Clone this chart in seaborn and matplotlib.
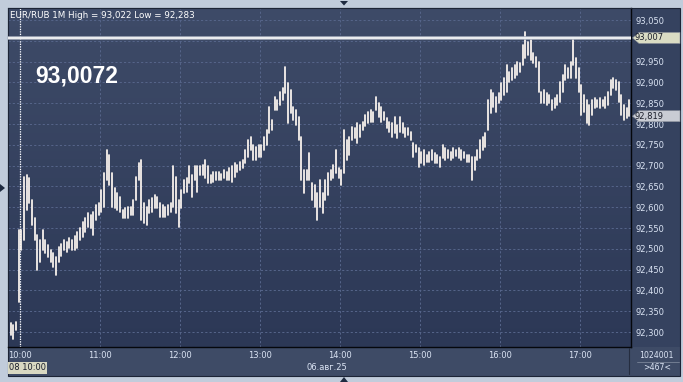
import numpy as np
import pandas as pd
import matplotlib
matplotlib.use("Agg")
import matplotlib.pyplot as plt
import matplotlib.transforms as mtransforms
from matplotlib.patches import Rectangle, Polygon
from matplotlib.colors import LinearSegmentedColormap
import seaborn as sns

# ---------------- data ----------------
first_bar_offset_min = -7      # first bar at 09:53 (minutes from 10:00)
bar_step_min = 2
highs = [
    92.322, 92.317, 92.325, 92.545, 92.545, 92.673, 92.677, 92.670, 92.617, 92.574,
    92.533, 92.521, 92.545, 92.521, 92.509, 92.497, 92.490, 92.480, 92.504, 92.511,
    92.521, 92.516, 92.526, 92.521, 92.530, 92.540, 92.550, 92.564, 92.574, 92.586,
    92.581, 92.588, 92.605, 92.610, 92.641, 92.682, 92.737, 92.725, 92.682, 92.646,
    92.634, 92.624, 92.593, 92.598, 92.600, 92.600, 92.617, 92.672, 92.706, 92.713,
    92.610, 92.600, 92.617, 92.622, 92.629, 92.624, 92.610, 92.605, 92.600, 92.605,
    92.610, 92.698, 92.672, 92.617, 92.641, 92.665, 92.670, 92.698, 92.677, 92.698,
    92.698, 92.698, 92.701, 92.713, 92.698, 92.677, 92.684, 92.684, 92.684, 92.680,
    92.689, 92.684, 92.694, 92.698, 92.706, 92.701, 92.708, 92.713, 92.737, 92.762,
    92.769, 92.750, 92.745, 92.750, 92.750, 92.769, 92.786, 92.841, 92.810, 92.865,
    92.858, 92.877, 92.887, 92.937, 92.899, 92.882, 92.841, 92.834, 92.817, 92.769,
    92.689, 92.689, 92.730, 92.658, 92.653, 92.634, 92.665, 92.634, 92.665, 92.682,
    92.689, 92.701, 92.737, 92.694, 92.689, 92.786, 92.762, 92.769, 92.793, 92.790,
    92.802, 92.798, 92.805, 92.822, 92.829, 92.834, 92.829, 92.865, 92.851, 92.841,
    92.829, 92.815, 92.805, 92.802, 92.817, 92.798, 92.817, 92.802, 92.790, 92.790,
    92.781, 92.754, 92.750, 92.742, 92.733, 92.737, 92.725, 92.733, 92.737, 92.730,
    92.725, 92.721, 92.750, 92.742, 92.737, 92.733, 92.742, 92.737, 92.742, 92.737,
    92.733, 92.725, 92.725, 92.721, 92.721, 92.737, 92.762, 92.769, 92.778, 92.858,
    92.882, 92.875, 92.865, 92.875, 92.899, 92.911, 92.942, 92.925, 92.935, 92.942,
    92.949, 92.947, 92.990, 93.022, 92.997, 93.002, 92.971, 92.961, 92.949, 92.877,
    92.882, 92.875, 92.870, 92.858, 92.863, 92.870, 92.901, 92.918, 92.942, 92.935,
    92.949, 93.007, 92.959, 92.935, 92.894, 92.870, 92.858, 92.846, 92.858, 92.863,
    92.858, 92.863, 92.858, 92.865, 92.877, 92.906, 92.911, 92.906, 92.901, 92.870,
    92.846, 92.839, 92.858,
]
lows = [
    92.293, 92.283, 92.305, 92.372, 92.497, 92.521, 92.593, 92.610, 92.557, 92.521,
    92.449, 92.468, 92.497, 92.490, 92.480, 92.468, 92.456, 92.437, 92.468, 92.483,
    92.497, 92.492, 92.502, 92.497, 92.497, 92.502, 92.521, 92.528, 92.540, 92.552,
    92.550, 92.533, 92.569, 92.581, 92.588, 92.600, 92.665, 92.653, 92.600, 92.598,
    92.593, 92.588, 92.574, 92.574, 92.574, 92.581, 92.581, 92.617, 92.665, 92.569,
    92.562, 92.557, 92.586, 92.588, 92.598, 92.598, 92.576, 92.576, 92.576, 92.581,
    92.588, 92.600, 92.586, 92.553, 92.598, 92.634, 92.636, 92.658, 92.624, 92.665,
    92.636, 92.677, 92.677, 92.670, 92.658, 92.658, 92.660, 92.665, 92.665, 92.665,
    92.670, 92.665, 92.665, 92.660, 92.672, 92.684, 92.689, 92.694, 92.706, 92.721,
    92.737, 92.713, 92.713, 92.721, 92.721, 92.737, 92.750, 92.778, 92.786, 92.834,
    92.834, 92.846, 92.858, 92.875, 92.802, 92.826, 92.810, 92.798, 92.762, 92.665,
    92.634, 92.665, 92.665, 92.617, 92.600, 92.569, 92.600, 92.586, 92.617, 92.629,
    92.665, 92.670, 92.682, 92.670, 92.653, 92.682, 92.713, 92.725, 92.762, 92.766,
    92.754, 92.769, 92.786, 92.795, 92.802, 92.805, 92.805, 92.834, 92.817, 92.805,
    92.810, 92.790, 92.781, 92.769, 92.778, 92.766, 92.781, 92.778, 92.769, 92.774,
    92.762, 92.721, 92.733, 92.697, 92.706, 92.701, 92.708, 92.708, 92.713, 92.706,
    92.706, 92.697, 92.718, 92.713, 92.718, 92.713, 92.718, 92.723, 92.718, 92.713,
    92.718, 92.708, 92.708, 92.665, 92.689, 92.713, 92.718, 92.737, 92.745, 92.786,
    92.826, 92.841, 92.829, 92.851, 92.858, 92.870, 92.877, 92.901, 92.906, 92.911,
    92.918, 92.925, 92.942, 92.959, 92.966, 92.954, 92.947, 92.937, 92.877, 92.850,
    92.850, 92.846, 92.851, 92.834, 92.838, 92.846, 92.853, 92.877, 92.906, 92.911,
    92.911, 92.942, 92.911, 92.877, 92.822, 92.829, 92.802, 92.798, 92.822, 92.838,
    92.841, 92.838, 92.843, 92.838, 92.846, 92.870, 92.887, 92.882, 92.853, 92.822,
    92.810, 92.815, 92.819,
]
y_ticks = [92.30, 92.35, 92.40, 92.45, 92.50, 92.55, 92.60, 92.65, 92.70,
           92.75, 92.80, 92.85, 92.90, 92.95, 93.00, 93.05]
x_tick_minutes = [0, 60, 120, 180, 240, 300, 360, 420]
x_tick_labels = ["10:00", "11:00", "12:00", "13:00", "14:00", "15:00", "16:00", "17:00"]
title_text = "EUR/RUB 1M High = 93,022 Low = 92,283"
big_value_text = "93,0072"
level_value = 93.007
level_label = "93,007"
last_close = 92.819
last_label = "92,819"
date_label = "06.авг.25"
cursor_label = "08 10:00"
corner_top = "1024001"
corner_bottom = ">467<"

assert len(highs) == len(lows)
n = len(highs)
t = first_bar_offset_min + bar_step_min * np.arange(n)
df = pd.DataFrame({
    "bar": np.concatenate([np.arange(n), np.arange(n)]),
    "t": np.concatenate([t, t]),
    "price": np.concatenate([highs, lows]),
})

# ---------------- style ----------------
sns.set_theme(style="dark")
plt.rcParams["font.family"] = ["DejaVu Sans"]

W, H = 683, 382
fig = plt.figure(figsize=(W / 100, H / 100), dpi=100)
fig.patch.set_facecolor("#c1ccdb")

def fx(px):
    return px / W

def fy(py):
    return 1 - py / H

label_col = "#dbe4f4"

# background panels
fig.add_artist(Rectangle((fx(8), fy(376)), fx(623), 29 / H, transform=fig.transFigure,
                         facecolor="#3e4b66", edgecolor="none", zorder=-1))
fig.add_artist(Rectangle((fx(631), fy(347)), fx(49), 339 / H, transform=fig.transFigure,
                         facecolor="#35425f", edgecolor="none", zorder=-1))
fig.add_artist(Rectangle((fx(631), fy(376)), fx(49), 29 / H, transform=fig.transFigure,
                         facecolor="#3e4b66", edgecolor="none", zorder=-1))
fig.add_artist(Rectangle((fx(8), fy(376)), fx(672), 368 / H, transform=fig.transFigure,
                         facecolor="none", edgecolor="#1c2436", lw=0.8, zorder=-0.5))

ax = fig.add_axes([fx(8), fy(347), fx(623), 339 / H])
grad = np.linspace(0, 1, 256).reshape(-1, 1)
cmap = LinearSegmentedColormap.from_list("bg", ["#2c3856", "#3e4b68"])
ax.imshow(grad, extent=[0, 1, 0, 1], transform=ax.transAxes, aspect="auto",
          cmap=cmap, origin="lower", zorder=0, interpolation="bilinear")

sns.lineplot(data=df, x="t", y="price", units="bar", estimator=None, sort=False,
             color="#fff8f2", linewidth=1.25, ax=ax, legend=False, zorder=2)

ax.set_xlim(-9, 458.25)
ax.set_ylim(92.264, 93.079)
ax.set_xticks(x_tick_minutes)
ax.set_xticklabels(x_tick_labels)
ax.set_yticks(y_ticks)
# the 93,000 label sits under the level tag in the reference, so it is left blank
ax.set_yticklabels(["" if abs(v - 93.00) < 1e-9 else f"{v:.3f}".replace(".", ",")
                    for v in y_ticks])
ax.yaxis.tick_right()
ax.set_xlabel("")
ax.set_ylabel("")
ax.grid(True, color="#56658a", linestyle=(0, (2.2, 2.2)), linewidth=0.7)
ax.set_axisbelow(True)
ax.tick_params(axis="y", length=0, pad=3, labelsize=6, labelcolor=label_col)
ax.tick_params(axis="x", length=0, pad=3, labelsize=6, labelcolor=label_col)
for s in ["left", "top"]:
    ax.spines[s].set_color("#1c2436")
    ax.spines[s].set_linewidth(0.8)
for s in ["right", "bottom"]:
    ax.spines[s].set_color("#05070c")
    ax.spines[s].set_linewidth(1.0)

# level line and cursor line
ax.axhline(level_value, color="#a9afbd", lw=2.6, zorder=3)
ax.axhline(level_value, color="#ffffff", lw=1.1, zorder=3.1)
ax.axvline(0, color="white", lw=0.9, linestyle=(0, (1, 1)), zorder=1.5)

# right-axis tags
blend = mtransforms.blended_transform_factory(fig.transFigure, ax.transData)
half = 5.5 * (93.05 - 92.30) / 312
for val, lab, col in [(level_value, level_label, "#dadcc4"), (last_close, last_label, "#c9ccd4")]:
    pts = [(fx(632.5), val), (fx(639), val + half), (fx(680), val + half),
           (fx(680), val - half), (fx(639), val - half)]
    fig.add_artist(Polygon(pts, closed=True, transform=blend, facecolor=col,
                           edgecolor="#8a8f9a", lw=0.4, zorder=4))
    fig.text(fx(634.5), val, lab, transform=blend, fontsize=6, color="#1b1f2b",
             va="center", ha="left", zorder=5)

# texts
fig.text(fx(10), fy(18.5), title_text, fontsize=6.3, color="white", va="baseline", ha="left")
fig.text(fx(35), fy(83), big_value_text, fontsize=16.5, color="white", fontweight="bold",
         family="Liberation Sans", va="baseline", ha="left")
fig.text(fx(326.5), fy(370), date_label, fontsize=6, color=label_col, va="baseline", ha="center")
fig.text(fx(9), fy(370.5), cursor_label, fontsize=6, color="#1b1f2b", va="baseline", ha="left",
         bbox=dict(boxstyle="square,pad=0.15", facecolor="#d8d8c2", edgecolor="none"))
fig.text(fx(656.5), fy(358), corner_top, fontsize=5.6, color=label_col, va="baseline", ha="center")
fig.text(fx(657), fy(370.5), corner_bottom, fontsize=5.6, color=label_col, va="baseline", ha="center")
fig.add_artist(plt.Line2D([fx(637), fx(679)], [fy(361.5), fy(361.5)], transform=fig.transFigure,
                          color="#7a8599", lw=0.6))
fig.add_artist(plt.Line2D([fx(629), fx(629)], [fy(348), fy(374)], transform=fig.transFigure,
                          color="#252d40", lw=0.8))

# small navigation triangles
tri_col = "#1e2a40"
fig.add_artist(Polygon([(fx(340), fy(1)), (fx(348), fy(1)), (fx(344), fy(5.5))],
                       transform=fig.transFigure, facecolor=tri_col, edgecolor="none"))
fig.add_artist(Polygon([(fx(340), fy(382)), (fx(348), fy(382)), (fx(344), fy(377))],
                       transform=fig.transFigure, facecolor=tri_col, edgecolor="none"))
fig.add_artist(Polygon([(fx(0), fy(184)), (fx(0), fy(192)), (fx(5), fy(188))],
                       transform=fig.transFigure, facecolor=tri_col, edgecolor="none"))

fig.savefig("out.png", dpi=100, facecolor=fig.get_facecolor())
